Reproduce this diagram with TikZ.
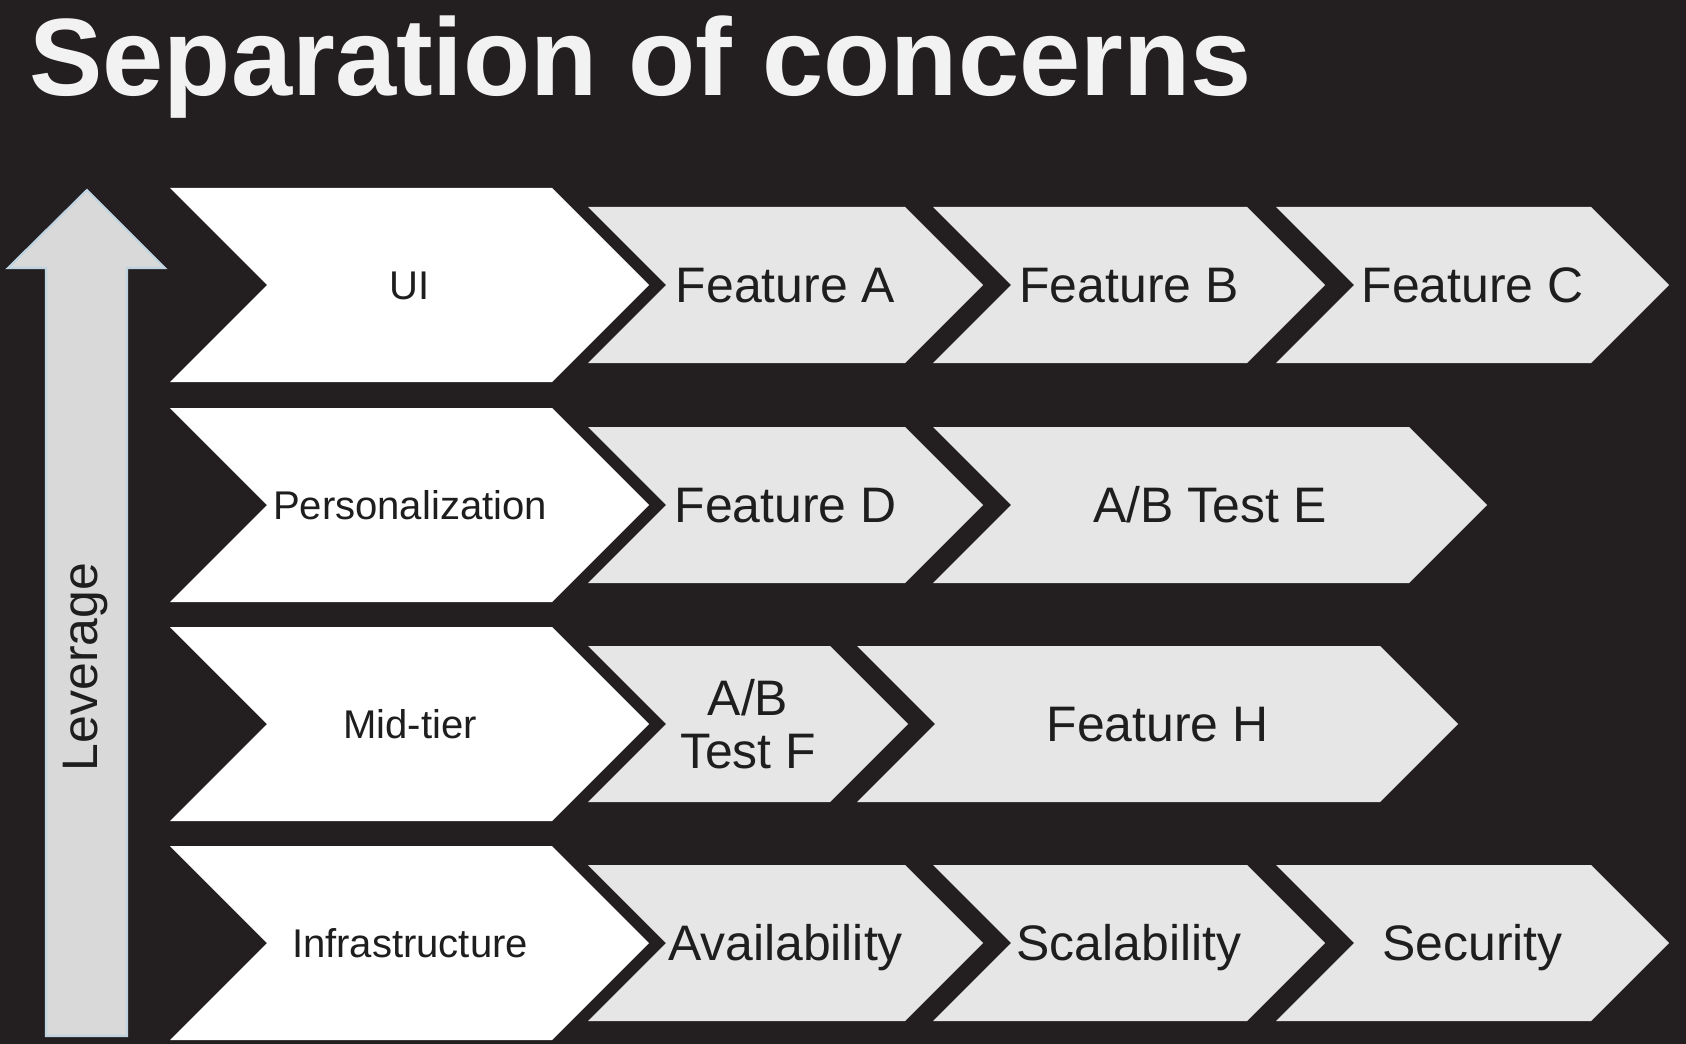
\documentclass[tikz,border=0pt]{standalone}
\usepackage{fontspec}
\setmainfont{Liberation Sans}
\usepackage{tikz}
\usetikzlibrary{positioning}
\usetikzlibrary{calc}

\definecolor{bgdark}{HTML}{231F20}
\definecolor{featgray}{HTML}{E6E6E6}
\definecolor{levgray}{HTML}{D9D9D9}
\definecolor{levblue}{HTML}{BFD3E0}
\definecolor{titlewhite}{HTML}{F2F2F2}
\definecolor{txtdark}{HTML}{1E1E1E}

\tikzstyle{stagetext} = [text=txtdark, inner sep=0pt, text height=16.3pt, text depth=0pt, font=\fontsize{22.8}{26}\selectfont]
\tikzstyle{featuretext} = [text=txtdark, inner sep=0pt, text height=20.3pt, text depth=0pt, font=\fontsize{28.4}{30}\selectfont]

% white chevron of a layer: name, left x, centre y, label
\newcommand{\stagebox}[4]{%
  \fill[white] (#2,#3-97) -- (#2+382,#3-97) -- (#2+479,#3) -- (#2+382,#3+97) -- (#2,#3+97) -- (#2+97,#3) -- cycle;
  \node[stagetext] (#1) at (#2+240,#3) {#4};
}
% grey chevron: name, left x, right x, centre y, label
\newcommand{\featurebox}[5]{%
  \fill[featgray] (#2,#4-78) -- (#3,#4-78) -- (#3+78,#4) -- (#3,#4+78) -- (#2,#4+78) -- (#2+78,#4) -- cycle;
  \node[featuretext] (#1) at ({(#2+#3+78)/2},#4) {#5};
}

\begin{document}
\begin{tikzpicture}[x=0.02cm, y=-0.02cm,
        twoline/.style={text=txtdark, inner sep=0pt, align=center, font=\fontsize{28.4}{30}\selectfont}]
    \fill[bgdark] (0,0) rectangle (1686,1044);

    \node[anchor=base west, text=titlewhite, inner sep=0pt, font=\bfseries\fontsize{62.6}{70}\selectfont] (title) at (29,96) {Separation of concerns};

    % leverage arrow
    \filldraw[fill=levgray, draw=levblue, line width=1.2pt] (87,190) -- (165,268) -- (127,268) -- (127,1036) -- (46,1036) -- (46,268) -- (8,268) -- cycle;
    \node[rotate=90, text=txtdark, inner sep=0pt, font=\fontsize{28.4}{30}\selectfont] (leverage) at (86,667) {Leverage};

    \stagebox{ui}{170}{285}{UI}
    \featurebox{featA}{588}{905}{285}{Feature A}
    \featurebox{featB}{933}{1247}{285}{Feature B}
    \featurebox{featC}{1276}{1591}{285}{Feature C}

    \stagebox{pers}{170}{505}{Personalization}
    \featurebox{featD}{588}{905}{505}{Feature D}
    \featurebox{testE}{933}{1409}{505}{A/B Test E}

    \stagebox{mid}{170}{724}{Mid-tier}
    \fill[featgray] (588,646) -- (830,646) -- (908,724) -- (830,802) -- (588,802) -- (666,724) -- cycle;
    \node[twoline] (testF) at (748,724) {A/B\\Test F};
    \featurebox{featH}{857}{1380}{724}{Feature H}

    \stagebox{infra}{170}{943}{Infrastructure}
    \featurebox{avail}{588}{905}{943}{Availability}
    \featurebox{scale}{933}{1247}{943}{Scalability}
    \featurebox{secur}{1276}{1591}{943}{Security}
\end{tikzpicture}
\end{document}
